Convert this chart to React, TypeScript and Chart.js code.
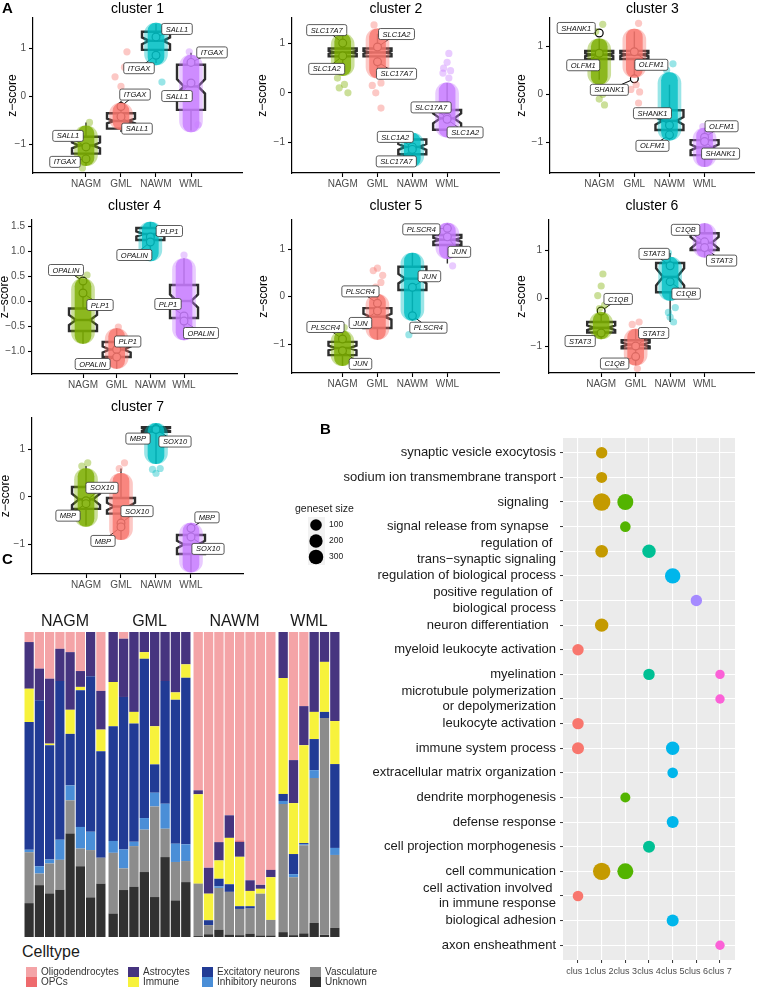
import React, { useEffect, useRef } from 'react';
import { Chart, registerables } from 'chart.js';

Chart.register(...registerables);
const FONT = "'Liberation Sans', Arial, Helvetica, sans-serif";
Chart.defaults.font.family = FONT;

// ================= Panel A data =================
const sampleGroups = ['NAGM', 'GML', 'NAWM', 'WML'];
const groupColors = ['#7CAE00', '#F8766D', '#00BFC4', '#C77CFF'];
const clusterTitles = ['cluster 1', 'cluster 2', 'cluster 3', 'cluster 4', 'cluster 5', 'cluster 6', 'cluster 7'];

// dense part of each jittered cloud: [low, high] z-score, per cluster, per group
const cloudCore = [
  [[-1.45, -0.62], [-0.7, -0.15], [0.65, 1.52], [-0.75, 0.85]],
  [[0.35, 1.2], [0.3, 1.3], [-1.5, -0.82], [-0.9, 0.2]],
  [[0.2, 1.15], [0.35, 1.35], [-0.95, 0.45], [-1.5, -0.7]],
  [[-0.85, 0.45], [-1.35, -0.55], [0.8, 1.58], [-0.78, 0.85]],
  [[-1.45, -0.72], [-0.9, 0.05], [-0.5, 0.92], [0.8, 1.55]],
  [[-0.85, -0.3], [-1.4, -0.65], [-0.05, 0.85], [0.85, 1.55]],
  [[-0.62, 0.6], [-0.9, 0.5], [0.7, 1.55], [-1.58, -0.55]],
];

// scattered cells outside the dense part: [group, z-score, jitter]
const cloudStray = [
  [[0, -0.55, 0.1], [0, -1.5, -0.1], [1, 0.92, 0.17], [1, 0.6, 0.1], [1, 0.4, -0.17], [1, 0.2, 0], [1, 0.05, 0.15], [2, 0.29, 0.17], [3, 0.92, -0.05], [3, -0.6, 0.2]],
  [[0, 0.1, -0.1], [0, 0.0, 0.15], [0, 0.17, 0.05], [0, 0.3, -0.15], [0, 1.25, 0], [1, 1.38, -0.1], [1, -0.31, 0.1], [1, 0.0, -0.05], [1, 0.15, -0.15], [1, 0.2, 0.1], [3, 0.8, 0.05], [3, 0.62, 0], [3, 0.5, -0.1], [3, 0.4, -0.12], [3, 0.45, 0.1], [3, 0.3, 0.05]],
  [[0, 1.45, 0.1], [0, 1.3, -0.1], [0, 0.1, -0.1], [0, -0.1, 0], [0, -0.22, 0.15], [0, 0.0, 0.1], [1, 1.47, 0.12], [1, 0.2, 0.05], [1, 0.1, -0.1], [1, -0.18, 0.12], [1, 0.05, 0.15], [2, 0.63, 0.1], [2, 0.5, -0.08], [3, -0.67, -0.05]],
  [[0, 0.52, 0.12], [0, 0.5, -0.1], [1, -0.52, 0.05], [3, 0.92, 0]],
  [[0, -0.65, 0.05], [1, 0.6, 0], [1, 0.55, -0.12], [1, 0.45, 0.15], [1, 0.3, 0.1], [1, 0.2, -0.05], [2, -0.8, -0.1], [2, -0.6, 0.1], [2, -0.7, 0.05], [3, 0.65, 0.15]],
  [[0, 0.5, 0.05], [0, 0.25, 0], [0, 0.05, -0.1], [0, -0.15, 0.1], [0, -0.22, -0.05], [1, -0.5, 0.1], [1, -0.55, -0.1], [1, -1.47, 0.05], [2, -0.5, 0.1], [2, -0.3, -0.05], [2, -0.2, 0.15], [2, 0.94, -0.05], [2, -0.4, 0]],
  [[0, 0.72, 0.05], [0, 0.65, -0.12], [1, 0.72, 0.1], [1, 0.6, -0.05], [2, 0.5, 0], [2, 0.6, 0.12], [2, 0.58, -0.1]],
];

// notched boxplots: [lower whisker, Q1, median, Q3, upper whisker, notch half-width]
const boxStats = [
  [[-1.45, -1.2, -1.03, -0.85, -0.55, 0.06], [-0.75, -0.68, -0.52, -0.36, -0.1, 0.05], [0.69, 0.96, 1.15, 1.34, 1.5, 0.07], [-0.72, -0.29, 0.2, 0.65, 0.9, 0.15]],
  [[0.45, 0.74, 0.82, 0.9, 1.2, 0.03], [0.45, 0.74, 0.82, 0.9, 1.2, 0.03], [-1.5, -1.25, -1.1, -0.95, -0.8, 0.06], [-0.9, -0.75, -0.52, -0.35, 0.2, 0.1]],
  [[0.3, 0.73, 0.82, 0.9, 1.15, 0.03], [0.4, 0.73, 0.82, 0.9, 1.3, 0.03], [-0.95, -0.74, -0.55, -0.33, 0.2, 0.08], [-1.5, -1.26, -1.1, -0.95, -0.7, 0.06]],
  [[-0.85, -0.6, -0.38, -0.15, 0.4, 0.1], [-1.35, -1.12, -0.97, -0.82, -0.55, 0.06], [0.85, 1.22, 1.34, 1.46, 1.58, 0.05], [-0.78, -0.34, 0.0, 0.32, 0.85, 0.13]],
  [[-1.45, -1.23, -1.08, -0.95, -0.7, 0.05], [-0.9, -0.66, -0.42, -0.24, 0.2, 0.06], [-0.5, 0.14, 0.38, 0.63, 0.92, 0.1], [0.7, 1.09, 1.2, 1.3, 1.55, 0.04]],
  [[-0.85, -0.72, -0.62, -0.5, -0.3, 0.05], [-1.4, -1.05, -0.97, -0.88, -0.65, 0.04], [-0.5, 0.12, 0.44, 0.73, 0.94, 0.18], [0.85, 1.0, 1.15, 1.35, 1.55, 0.12]],
  [[-0.6, -0.25, -0.05, 0.21, 0.65, 0.12], [-0.9, -0.35, -0.2, -0.02, 0.6, 0.08], [0.7, 1.37, 1.42, 1.47, 1.55, 0.03], [-1.58, -1.2, -1.0, -0.8, -0.55, 0.08]],
];

// labelled marker genes: [gene, group, z-score]
const markerGenes = [
  [['SALL1', 0, -1.06], ['ITGAX', 0, -1.31], ['ITGAX', 1, -0.22], ['SALL1', 1, -0.43], ['SALL1', 2, 1.23], ['ITGAX', 2, 0.85], ['ITGAX', 3, 0.7], ['SALL1', 3, 0.27]],
  [['SLC17A7', 0, 1.01], ['SLC1A2', 0, 0.75], ['SLC1A2', 1, 0.93], ['SLC17A7', 1, 0.63], ['SLC1A2', 2, -1.1], ['SLC17A7', 2, -1.15], ['SLC17A7', 3, -0.5], ['SLC1A2', 3, -0.54]],
  [['SHANK1', 0, 1.27], ['OLFM1', 0, 0.85], ['OLFM1', 1, 0.88], ['SHANK1', 1, 0.32], ['SHANK1', 2, -0.64], ['OLFM1', 2, -0.84], ['OLFM1', 3, -0.89], ['SHANK1', 3, -0.98]],
  [['OPALIN', 0, 0.4], ['PLP1', 0, 0.16], ['PLP1', 1, -0.97], ['OPALIN', 1, -1.12], ['PLP1', 2, 1.28], ['OPALIN', 2, 1.18], ['PLP1', 3, -0.3], ['OPALIN', 3, -0.4]],
  [['PLSCR4', 0, -0.89], ['JUN', 0, -1.14], ['PLSCR4', 1, -0.14], ['JUN', 1, -0.3], ['JUN', 2, 0.2], ['PLSCR4', 2, -0.4], ['PLSCR4', 3, 1.44], ['JUN', 3, 1.26]],
  [['C1QB', 0, -0.27], ['STAT3', 0, -0.73], ['STAT3', 1, -1.0], ['C1QB', 1, -1.22], ['STAT3', 2, 0.67], ['C1QB', 2, 0.34], ['C1QB', 3, 1.17], ['STAT3', 3, 1.05]],
  [['SOX10', 0, -0.08], ['MBP', 0, -0.14], ['SOX10', 1, -0.55], ['MBP', 1, -0.63], ['MBP', 2, 1.44], ['SOX10', 2, 1.42], ['MBP', 3, -0.66], ['SOX10', 3, -0.84]],
];

// ================= Panel B data =================
const clusLabels = ['clus 1', 'clus 2', 'clus 3', 'clus 4', 'clus 5', 'clus 6', 'clus 7'];
const clusColors = ['#F8766D', '#C49A00', '#53B400', '#00C094', '#00B6EB', '#A58AFF', '#FB61D7'];
const goTerms = [
  'synaptic vesicle exocytosis',
  'sodium ion transmembrane transport',
  'signaling  ',
  'signal release from synapse  ',
  ['regulation of ', 'trans\u2212synaptic signaling'],
  'regulation of biological process',
  ['positive regulation of ', 'biological process'],
  'neuron differentiation  ',
  'myeloid leukocyte activation',
  'myelination',
  ['microtubule polymerization', 'or depolymerization'],
  'leukocyte activation',
  'immune system process',
  'extracellular matrix organization',
  'dendrite morphogenesis',
  'defense response',
  'cell projection morphogenesis',
  'cell communication',
  ['cell activation involved ', 'in immune response'],
  'biological adhesion',
  'axon ensheathment',
];
// [term index, cluster index, geneset size]
const goHits = [
  [0, 1, 90], [1, 1, 72], [2, 1, 600], [2, 2, 441], [3, 2, 56], [4, 1, 156], [4, 3, 210],
  [5, 4, 380], [6, 5, 90], [7, 1, 210], [8, 0, 90], [9, 3, 90], [9, 6, 20], [10, 6, 20],
  [11, 0, 90], [12, 0, 121], [12, 4, 210], [13, 4, 56], [14, 2, 36], [15, 4, 121], [16, 3, 121],
  [17, 1, 600], [17, 2, 441], [18, 0, 56], [19, 4, 121], [20, 6, 20],
];
const sizeBreaks = [100, 200, 300];

// ================= Panel C data =================
const facetNames = ['NAGM', 'GML', 'NAWM', 'WML'];
const facetSampleCounts = [8, 8, 8, 6];
const oligodendrocytes = [0.033, 0.12, 0.153, 0.055, 0.066, 0.128, 0, 0.193, 0, 0.022, 0, 0, 0, 0, 0, 0, 0.519, 0.773, 0.689, 0.601, 0.683, 0.814, 0.829, 0.78, 0, 0.42, 0.243, 0, 0, 0];
const opcs = [0, 0, 0, 0, 0, 0, 0, 0, 0, 0, 0, 0, 0, 0, 0, 0, 0, 0, 0, 0, 0.005, 0, 0, 0, 0, 0, 0, 0, 0, 0];
const astrocytes = [0.153, 0.104, 0.213, 0.106, 0.189, 0.052, 0.145, 0.127, 0.164, 0.191, 0.262, 0.066, 0.309, 0.161, 0.198, 0.106, 0.013, 0.085, 0.06, 0.074, 0.049, 0.035, 0.013, 0.024, 0.151, 0.141, 0.128, 0.262, 0.098, 0.292];
const immune = [0.109, 0, 0.005, 0, 0.079, 0.011, 0, 0.071, 0.145, 0, 0.038, 0.022, 0.125, 0, 0.024, 0.044, 0.293, 0.087, 0.06, 0.152, 0.162, 0.05, 0.016, 0.14, 0.38, 0.167, 0.321, 0.089, 0.164, 0.141];
const excitatory = [0.419, 0.544, 0.375, 0.52, 0.169, 0.448, 0.51, 0.349, 0.376, 0.5, 0.388, 0.522, 0.093, 0.402, 0.472, 0.546, 0, 0.016, 0.025, 0.025, 0.009, 0.008, 0, 0, 0.023, 0.066, 0.004, 0.102, 0.02, 0.275];
const inhibitory = [0.008, 0.024, 0.013, 0.066, 0.049, 0.071, 0.06, 0, 0.039, 0.062, 0.014, 0.038, 0.045, 0.082, 0.06, 0.055, 0, 0, 0.005, 0, 0, 0, 0, 0, 0.01, 0.01, 0.003, 0.026, 0, 0.023];
const vasculature = [0.167, 0.038, 0.098, 0.098, 0.109, 0.058, 0.155, 0.085, 0.199, 0.071, 0.133, 0.139, 0.297, 0.093, 0.126, 0.069, 0.172, 0.03, 0.137, 0.14, 0.086, 0.082, 0.137, 0.051, 0.42, 0.19, 0.289, 0.475, 0.711, 0.239];
const unknown = [0.111, 0.17, 0.143, 0.155, 0.339, 0.232, 0.13, 0.175, 0.077, 0.154, 0.165, 0.213, 0.131, 0.262, 0.12, 0.18, 0.003, 0.009, 0.024, 0.008, 0.006, 0.011, 0.005, 0.005, 0.016, 0.006, 0.012, 0.046, 0.007, 0.03];

const celltypeNames = ['Oligodendrocytes', 'OPCs', 'Astrocytes', 'Immune', 'Excitatory neurons', 'Inhibitory neurons', 'Vasculature', 'Unknown'];
const celltypeValues = [oligodendrocytes, opcs, astrocytes, immune, excitatory, inhibitory, vasculature, unknown];
const celltypeColors = ['#F4A4A7', '#EE6A6D', '#46347F', '#F7F23C', '#213B95', '#4A8ED7', '#8C8C8C', '#313131'];

// ================= layout (positions / styles) =================
const clusterLayout = [
  { left: 0, top: 0, w: 250, h: 192, area: [33, 18, 242, 173], x: [-0.514, 5.457], y: [-1.604, 1.625], yTicks: [-1, 0, 1], dec: 0, titleY: 9, zX: 13 },
  { left: 250, top: 0, w: 255, h: 192, area: [42, 18, 252, 173], x: [-0.457, 5.514], y: [-1.63, 1.52], yTicks: [-1, 0, 1], dec: 0, titleY: 9, zX: 13 },
  { left: 505, top: 0, w: 255, h: 192, area: [45, 18, 253, 173], x: [-0.402, 5.43], y: [-1.63, 1.58], yTicks: [-1, 0, 1], dec: 0, titleY: 9, zX: 17 },
  { left: 0, top: 195, w: 250, h: 197, area: [32, 25, 237, 179], x: [-0.515, 5.574], y: [-1.46, 1.62], yTicks: [-1, -0.5, 0, 0.5, 1, 1.5], dec: 1, titleY: 11, zX: 5 },
  { left: 250, top: 195, w: 255, h: 197, area: [42, 25, 252, 178], x: [-0.444, 5.5], y: [-1.606, 1.615], yTicks: [-1, 0, 1], dec: 0, titleY: 11, zX: 14 },
  { left: 505, top: 195, w: 255, h: 197, area: [44, 25, 253, 178], x: [-0.514, 5.457], y: [-1.5625, 1.625], yTicks: [-1, 0, 1], dec: 0, titleY: 11, zX: 17 },
  { left: 0, top: 395, w: 250, h: 200, area: [32, 23, 243, 179], x: [-0.543, 5.486], y: [-1.621, 1.663], yTicks: [-1, 0, 1], dec: 0, titleY: 12, zX: 6 },
];
// label box offsets from each marker point (px)
const labelOffsets = [
  [[-18, -11], [-21, 3], [14, -12], [16, 12], [21, -8], [-17, 13], [21, -10], [-14, 13]],
  [[-16, -13], [-16, 13], [19, -13], [19, 12], [-17, -10], [-16, 12], [-16, -10], [18, 13]],
  [[-23, -5], [-16, 12], [17, 13], [-25, 11], [-17, -12], [-17, 11], [17, -11], [16, 12]],
  [[-17, -11], [17, 12], [11, -8], [-24, 7], [19, -6], [-16, 13], [-16, -12], [17, 12]],
  [[-17, -12], [18, 13], [-17, -12], [-17, 12], [17, -11], [16, 12], [-26, 1], [12, 15]],
  [[17, -12], [-21, 8], [18, -13], [-21, 7], [-16, -12], [16, 12], [-19, -12], [17, 13]],
  [[16, -13], [-18, 12], [16, -12], [-18, 14], [-18, 10], [19, 12], [16, -11], [17, 12]],
];
const facetLayout = [{ left: 24, w: 82 }, { left: 108, w: 83 }, { left: 193, w: 83 }, { left: 278, w: 62 }];

function rgba(hex, a) {
  const n = parseInt(hex.slice(1), 16);
  return `rgba(${(n >> 16) & 255},${(n >> 8) & 255},${n & 255},${a})`;
}
function fmtTick(v, dec) {
  const s = Math.abs(v).toFixed(dec);
  return (v < -1e-9 ? '\u2212' : '') + s;
}
function sizeToRadius(s) {
  return 3.8 + 0.2 * Math.sqrt(s);
}
function roundRectPath(ctx, x, y, w, h, r) {
  ctx.beginPath();
  ctx.moveTo(x + r, y);
  ctx.lineTo(x + w - r, y);
  ctx.quadraticCurveTo(x + w, y, x + w, y + r);
  ctx.lineTo(x + w, y + h - r);
  ctx.quadraticCurveTo(x + w, y + h, x + w - r, y + h);
  ctx.lineTo(x + r, y + h);
  ctx.quadraticCurveTo(x, y + h, x, y + h - r);
  ctx.lineTo(x, y + r);
  ctx.quadraticCurveTo(x, y, x + r, y);
  ctx.closePath();
}

function axisCommon() {
  return {
    grid: { display: true, drawOnChartArea: false, drawTicks: true, tickLength: 4, tickColor: '#000', tickWidth: 1.1, offset: false },
    border: { display: true, color: '#000', width: 1.2 },
  };
}

function clusterConfig(ci) {
  const L = clusterLayout[ci];
  const [aL, aT, aR, aB] = L.area;
  const core = cloudCore[ci];
  const stray = cloudStray[ci];
  const genes = markerGenes[ci];
  const offs = labelOffsets[ci];
  const boxes = boxStats[ci];
  const coreData = core.map((r, g) => ({ x: g + 1, y: [r[0], r[1]] }));

  const decor = {
    id: 'clusterDecor' + ci,
    beforeDatasetsDraw(chart) {
      const { ctx } = chart;
      const xs = chart.scales.x, ys = chart.scales.y;
      const py = (v) => ys.getPixelForValue(v);
      ctx.save();
      ctx.strokeStyle = '#2E2E2E';
      boxes.forEach((b, g) => {
        const [wlo, q1, med, q3, whi, notch] = b;
        const cx = xs.getPixelForValue(g + 1);
        const hw = 14;
        ctx.lineWidth = 1.4;
        ctx.beginPath();
        ctx.moveTo(cx, py(q3)); ctx.lineTo(cx, py(whi));
        ctx.moveTo(cx, py(q1)); ctx.lineTo(cx, py(wlo));
        ctx.stroke();
        ctx.lineWidth = 2.4;
        ctx.lineJoin = 'miter';
        ctx.beginPath();
        ctx.moveTo(cx - hw, py(q1));
        ctx.lineTo(cx - hw, py(med - notch));
        ctx.lineTo(cx - hw / 2, py(med));
        ctx.lineTo(cx - hw, py(med + notch));
        ctx.lineTo(cx - hw, py(q3));
        ctx.lineTo(cx + hw, py(q3));
        ctx.lineTo(cx + hw, py(med + notch));
        ctx.lineTo(cx + hw / 2, py(med));
        ctx.lineTo(cx + hw, py(med - notch));
        ctx.lineTo(cx + hw, py(q1));
        ctx.closePath();
        ctx.stroke();
        ctx.beginPath();
        ctx.moveTo(cx - hw / 2, py(med));
        ctx.lineTo(cx + hw / 2, py(med));
        ctx.stroke();
      });
      ctx.restore();
    },
    beforeDatasetDraw(chart, args) {
      if (args.index !== 3) return;
      const { ctx } = chart;
      const xs = chart.scales.x, ys = chart.scales.y;
      ctx.save();
      ctx.strokeStyle = '#000';
      ctx.lineWidth = 1;
      genes.forEach((gInfo, k) => {
        const px = xs.getPixelForValue(gInfo[1] + 1);
        const pyv = ys.getPixelForValue(gInfo[2]);
        ctx.beginPath();
        ctx.moveTo(px, pyv);
        ctx.lineTo(px + offs[k][0], pyv + offs[k][1]);
        ctx.stroke();
      });
      ctx.restore();
    },
    afterDatasetsDraw(chart) {
      const { ctx } = chart;
      const xs = chart.scales.x, ys = chart.scales.y;
      ctx.save();
      ctx.font = `italic 7.5px ${FONT}`;
      ctx.textAlign = 'center';
      ctx.textBaseline = 'middle';
      genes.forEach((gInfo, k) => {
        const px = xs.getPixelForValue(gInfo[1] + 1);
        const pyv = ys.getPixelForValue(gInfo[2]);
        const cx = px + offs[k][0], cy = pyv + offs[k][1];
        const tw = ctx.measureText(gInfo[0]).width;
        const w = tw + 8, h = 11;
        roundRectPath(ctx, cx - w / 2, cy - h / 2, w, h, 2);
        ctx.fillStyle = '#fff';
        ctx.fill();
        ctx.strokeStyle = '#333';
        ctx.lineWidth = 0.8;
        ctx.stroke();
        ctx.fillStyle = '#111';
        ctx.fillText(gInfo[0], cx, cy + 0.5);
      });
      ctx.restore();
    },
    afterDraw(chart) {
      const { ctx, chartArea } = chart;
      ctx.save();
      ctx.fillStyle = '#000';
      ctx.font = `14px ${FONT}`;
      ctx.textAlign = 'center';
      ctx.textBaseline = 'middle';
      ctx.fillText(clusterTitles[ci], (chartArea.left + chartArea.right) / 2, L.titleY);
      ctx.translate(L.zX, (chartArea.top + chartArea.bottom) / 2);
      ctx.rotate(-Math.PI / 2);
      ctx.font = `12px ${FONT}`;
      ctx.fillText('z\u2212score', 0, 0);
      ctx.restore();
    },
  };

  const ax = axisCommon();
  return {
    type: 'bar',
    data: {
      datasets: [
        { type: 'bar', data: coreData, backgroundColor: core.map((_, g) => rgba(groupColors[g], 0.4)), barThickness: 23, borderRadius: 11, borderSkipped: false, grouped: false, borderWidth: 0 },
        { type: 'bar', data: coreData, backgroundColor: core.map((_, g) => rgba(groupColors[g], 0.8)), barThickness: 16, borderRadius: 8, borderSkipped: false, grouped: false, borderWidth: 0 },
        { type: 'scatter', data: stray.map((s) => ({ x: s[0] + 1 + s[2], y: s[1] })), pointBackgroundColor: stray.map((s) => rgba(groupColors[s[0]], 0.4)), pointRadius: 3.6, pointBorderWidth: 0 },
        { type: 'scatter', data: genes.map((g) => ({ x: g[1] + 1, y: g[2] })), pointBackgroundColor: '#fff', pointBorderColor: '#000', pointRadius: 3.9, pointBorderWidth: 1.2 },
      ],
    },
    options: {
      responsive: false,
      animation: false,
      events: [],
      layout: { padding: { left: 0, top: aT, right: L.w - aR, bottom: 0 } },
      plugins: { legend: { display: false }, tooltip: { enabled: false }, title: { display: false } },
      scales: {
        x: {
          type: 'linear', min: L.x[0], max: L.x[1], offset: false,
          afterBuildTicks: (s) => { s.ticks = sampleGroups.map((_, i) => ({ value: i + 1 })); },
          afterFit: (s) => { s.height = L.h - aB; },
          ticks: { callback: (v) => sampleGroups[Math.round(v) - 1] || '', color: '#4D4D4D', font: { size: 10 }, padding: 1, autoSkip: false, maxRotation: 0 },
          ...ax,
        },
        y: {
          type: 'linear', min: L.y[0], max: L.y[1],
          afterBuildTicks: (s) => { s.ticks = L.yTicks.map((v) => ({ value: v })); },
          afterFit: (s) => { s.width = aL; },
          ticks: { callback: (v) => fmtTick(v, L.dec), color: '#4D4D4D', font: { size: 10 }, padding: 3, autoSkip: false },
          ...ax,
        },
      },
    },
    plugins: [decor],
  };
}

function goConfig() {
  const bg = {
    id: 'panelBg',
    beforeDraw(chart) {
      const { ctx, chartArea: a } = chart;
      ctx.save();
      ctx.fillStyle = '#EBEBEB';
      ctx.fillRect(a.left, a.top, a.right - a.left, a.bottom - a.top);
      ctx.restore();
    },
    afterDraw(chart) {
      const { ctx } = chart;
      ctx.save();
      ctx.fillStyle = '#1A1A1A';
      ctx.font = `10.5px ${FONT}`;
      ctx.textAlign = 'left';
      ctx.textBaseline = 'middle';
      ctx.fillText('geneset size', 5, 94);
      sizeBreaks.forEach((s, i) => {
        const cy = 110 + i * 16;
        ctx.fillStyle = '#F2F2F2';
        ctx.fillRect(18, cy - 8, 17, 16);
        ctx.fillStyle = '#000';
        ctx.beginPath();
        ctx.arc(26, cy, sizeToRadius(s), 0, Math.PI * 2);
        ctx.fill();
        ctx.fillStyle = '#1A1A1A';
        ctx.font = `8.5px ${FONT}`;
        ctx.fillText(String(s), 39, cy);
      });
      ctx.restore();
    },
  };
  return {
    type: 'bubble',
    data: {
      datasets: [{
        data: goHits.map((h) => ({ x: h[1], y: h[0], r: sizeToRadius(h[2]) })),
        backgroundColor: goHits.map((h) => clusColors[h[1]]),
        borderWidth: 0,
      }],
    },
    options: {
      responsive: false,
      animation: false,
      events: [],
      layout: { padding: { left: 0, top: 23, right: 25, bottom: 0 } },
      plugins: { legend: { display: false }, tooltip: { enabled: false } },
      scales: {
        x: {
          type: 'linear', min: -0.634, max: 6.634,
          afterBuildTicks: (s) => { s.ticks = clusLabels.map((_, i) => ({ value: i })); },
          afterFit: (s) => { s.height = 32; },
          ticks: { callback: (v) => clusLabels[Math.round(v)] || '', color: '#4D4D4D', font: { size: 9 }, padding: 3, autoSkip: false, maxRotation: 0 },
          grid: { color: '#FFFFFF', lineWidth: 1.1, drawTicks: true, tickLength: 3, tickColor: '#333', tickWidth: 1 },
          border: { display: false },
        },
        y: {
          type: 'linear', min: -0.6, max: 20.6, reverse: true,
          afterBuildTicks: (s) => { s.ticks = goTerms.map((_, i) => ({ value: i })); },
          afterFit: (s) => { s.width = 273; },
          ticks: { callback: (v) => goTerms[Math.round(v)], color: '#1A1A1A', font: { size: 13, lineHeight: 1.2 }, padding: 4, autoSkip: false },
          grid: { color: '#FFFFFF', lineWidth: 1.1, drawTicks: true, tickLength: 3, tickColor: '#333', tickWidth: 1 },
          border: { display: false },
        },
      },
    },
    plugins: [bg],
  };
}

function facetConfig(fi) {
  const start = facetSampleCounts.slice(0, fi).reduce((a, b) => a + b, 0);
  const n = facetSampleCounts[fi];
  const labels = Array.from({ length: n }, (_, i) => facetNames[fi] + ' ' + (i + 1));
  const order = [7, 6, 5, 4, 3, 2, 1, 0]; // stack bottom -> top
  const titlePlugin = {
    id: 'facetTitle',
    afterDraw(chart) {
      const { ctx, width } = chart;
      ctx.save();
      ctx.fillStyle = '#1A1A1A';
      ctx.font = `16px ${FONT}`;
      ctx.textAlign = 'center';
      ctx.textBaseline = 'middle';
      ctx.fillText(facetNames[fi], width / 2, 15);
      ctx.restore();
    },
  };
  return {
    type: 'bar',
    data: {
      labels,
      datasets: order.map((k) => ({
        label: celltypeNames[k],
        data: celltypeValues[k].slice(start, start + n),
        backgroundColor: celltypeColors[k],
        borderWidth: 0,
        barPercentage: 0.9,
        categoryPercentage: 1,
      })),
    },
    options: {
      responsive: false,
      animation: false,
      events: [],
      layout: { padding: { top: 25, left: 0, right: 0, bottom: 0 } },
      plugins: { legend: { display: false }, tooltip: { enabled: false } },
      scales: {
        x: { display: false, stacked: true },
        y: { display: false, stacked: true, min: 0, max: 1 },
      },
    },
    plugins: [titlePlugin],
  };
}

function ChartBox({ left, top, width, height, build }) {
  const ref = useRef(null);
  useEffect(() => {
    const chart = new Chart(ref.current, build());
    return () => chart.destroy();
  }, []);
  return <canvas ref={ref} width={width} height={height} style={{ position: 'absolute', left, top, width, height }} />;
}

const legendOrder = [0, 2, 4, 6, 1, 3, 5, 7];
const legendColX = [26, 128, 202, 310];
const legendRowY = [967, 977];

export default function App() {
  const panelLabel = (txt, left, top) => (
    <span style={{ position: 'absolute', left, top, fontWeight: 'bold', fontSize: 15, lineHeight: '15px', color: '#000' }}>{txt}</span>
  );
  return (
    <div style={{ position: 'absolute', left: 0, top: 0, width: 760, height: 992, background: '#fff', overflow: 'hidden', fontFamily: FONT }}>
      {clusterLayout.map((L, i) => (
        <ChartBox key={'c' + i} left={L.left} top={L.top} width={L.w} height={L.h} build={() => clusterConfig(i)} />
      ))}
      {facetLayout.map((f, i) => (
        <ChartBox key={'f' + i} left={f.left} top={607} width={f.w} height={330} build={() => facetConfig(i)} />
      ))}
      <ChartBox left={290} top={415} width={470} height={577} build={goConfig} />
      {panelLabel('A', 2, 0)}
      {panelLabel('B', 320, 421)}
      {panelLabel('C', 2, 551)}
      <span style={{ position: 'absolute', left: 22, top: 943, fontSize: 16, lineHeight: '18px', color: '#1A1A1A' }}>Celltype</span>
      {legendOrder.map((k, j) => {
        const col = j % 4, row = Math.floor(j / 4);
        const x = legendColX[col], y = legendRowY[row];
        return (
          <React.Fragment key={'l' + k}>
            <div style={{ position: 'absolute', left: x, top: y, width: 11, height: 10, background: celltypeColors[k] }} />
            <span style={{ position: 'absolute', left: x + 15, top: y - 1, fontSize: 10, lineHeight: '12px', color: '#333', whiteSpace: 'nowrap' }}>{celltypeNames[k]}</span>
          </React.Fragment>
        );
      })}
    </div>
  );
}
